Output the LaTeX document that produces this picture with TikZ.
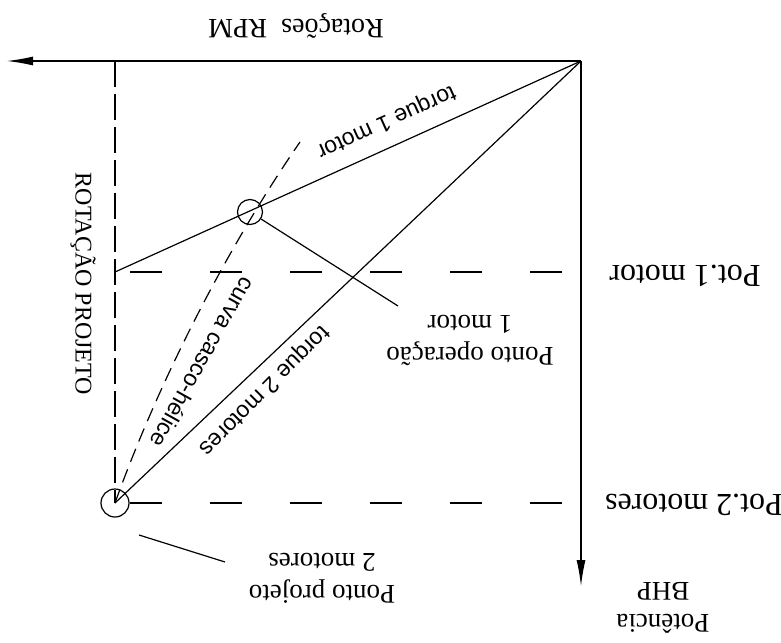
\documentclass[tikz,border=0pt]{standalone}
\usepackage{fontspec}
\setmainfont{Liberation Serif}
\newfontfamily\lblfont{Liberation Sans}
\usetikzlibrary{arrows.meta}

\begin{document}
\begin{tikzpicture}[x=0.5pt,y=-0.5pt,line width=0.6pt,>={Latex[length=13pt,width=4.5pt]},
        axlabel/.style={font=\fontsize{16}{19}\selectfont,inner sep=0pt},
        ptlabel/.style={font=\fontsize{13.5}{16}\selectfont,align=center,inner sep=0pt,rotate=180},
        curvelabel/.style={font=\lblfont\fontsize{11.5}{13}\selectfont,inner sep=0pt},
        guide/.style={dash pattern=on 16pt off 24pt,dash phase=32.5pt},
        refline/.style={dash pattern=on 13pt off 3.5pt},
        ptcircle/.style={draw,circle,inner sep=0pt}]
    \useasboundingbox (0,0) rectangle (781,642);
    \coordinate (O) at (581,61);
    \coordinate (rpm) at (7,61);
    \coordinate (bhp) at (581,586);
    \coordinate (top) at (115,61);
    \coordinate (p1) at (115,272);
    \coordinate (pot1) at (581,272);
    \coordinate (pot2) at (581,503);
    \coordinate (curveend) at (300,142);
    \draw[->] (O) -- (rpm);
    \draw[->] (O) -- (bhp);
    \node[ptcircle,minimum size=14pt] (projeto) at (115,503) {};
    \node[ptcircle,minimum size=12.5pt] (operacao) at (250,212) {};
    \draw[refline] (top) -- (projeto.center);
    \draw[guide] (p1) -- (pot1);
    \draw[guide] (projeto.center) -- (pot2);
    \draw (O) -- (p1);
    \draw (O) -- (projeto.center);
    \draw[dash pattern=on 7pt off 4pt] (projeto.center) .. controls (150,405) and (215,265) .. (curveend);
    \node[font=\fontsize{14}{16}\selectfont,rotate=180] (rot) at (296,26) {Rotações\ \ RPM};
    \node[ptlabel] (bhplabel) at (663,608) {Potência\\BHP};
    \node[axlabel,rotate=180] (pot1label) at (685,276) {Pot.1 motor};
    \node[axlabel,rotate=180] (pot2label) at (694,505) {Pot.2 motores};
    \node[font=\fontsize{12}{14}\selectfont,rotate=-90] (projlabel) at (83,284) {ROTAÇÃO PROJETO};
    \node[ptlabel] (oplabel) at (470,340) {Ponto operação\\1 motor};
    \node[ptlabel] (pplabel) at (322,578) {Ponto projeto\\2 motores};
    \node[curvelabel,rotate=204.3] (t1label) at (386,121) {torque 1 motor};
    \node[curvelabel,rotate=225] (t2label) at (264,390) {torque 2 motores};
    \node[curvelabel,rotate=240.8] (hlabel) at (203,363) {curva casco-hélice};
    \coordinate (opend) at (398,306);
    \coordinate (ppstart) at (139,535);
    \coordinate (ppend) at (225,562);
    \draw (operacao) -- (opend);
    \draw (ppstart) -- (ppend);
\end{tikzpicture}
\end{document}
